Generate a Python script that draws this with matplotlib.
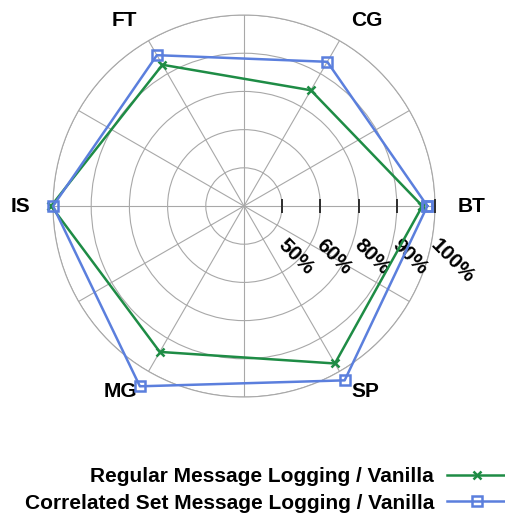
import numpy as np
import matplotlib
matplotlib.use("Agg")
import matplotlib.pyplot as plt

plt.rcParams['font.family'] = ['Liberation Sans', 'DejaVu Sans']
plt.rcParams['font.weight'] = 'bold'

categories = ["BT", "CG", "FT", "IS", "MG", "SP"]
ring_values = [50, 60, 80, 90, 100]
ring_labels = ["50%", "60%", "80%", "90%", "100%"]
regular = [96.7, 85.0, 92.7, 100.5, 94.1, 97.6]
correlated = [98.0, 93.6, 95.6, 100.0, 104.5, 102.7]
series_names = ["Regular Message Logging / Vanilla",
                "Correlated Set Message Logging / Vanilla"]

GREEN = "#1e8c45"
BLUE = "#5b7fdd"
GRID = "#a8a8a8"

ring_pos = np.arange(1, len(ring_values) + 1)


def to_r(vals):
    vals = np.asarray(vals, dtype=float)
    xp = [40] + ring_values
    fp = [0] + list(ring_pos)
    r = np.interp(vals, xp, fp)
    over = vals > ring_values[-1]
    r[over] = ring_pos[-1] + (vals[over] - ring_values[-1]) / 10.0
    return r


fig = plt.figure(figsize=(5.06, 5.13), dpi=100)
ax = fig.add_axes([0.1047, 0.2261, 0.755, 0.7446], projection='polar')

n = len(categories)
theta = np.deg2rad(np.arange(n) * 360.0 / n)

ax.set_ylim(0, ring_pos[-1])
ax.set_yticks(ring_pos)
ax.set_yticklabels([])
ax.set_xticks(np.deg2rad(np.arange(0, 360, 30)))
ax.set_xticklabels([])
ax.grid(True, color=GRID, linewidth=0.8)
ax.spines['polar'].set_color(GRID)
ax.spines['polar'].set_linewidth(0.8)
ax.tick_params(length=0)

# ticks along BT axis
ax.plot(np.zeros(len(ring_pos)), ring_pos, linestyle='none', marker='|',
        markersize=10, markeredgewidth=1.3, color='#222222', clip_on=False, zorder=3)

for rp, lab in zip(ring_pos, ring_labels):
    ax.annotate(lab, xy=(0, rp), xytext=(4.0, -21), textcoords='offset points',
                rotation=-45, rotation_mode='anchor', ha='left', va='top',
                fontsize=15, fontweight='bold', annotation_clip=False)

# category labels
for t, c in zip(theta, categories):
    deg = np.rad2deg(t)
    if np.isclose(deg, 90) or np.isclose(deg, 270):
        ha = 'center'
    elif deg < 90 or deg > 270:
        ha = 'left'
    else:
        ha = 'right'
    ax.text(t, 5.6, c, ha=ha, va='center', fontsize=15, fontweight='bold',
            clip_on=False)

tc = np.append(theta, theta[0])
rg = to_r(regular)
rc = to_r(correlated)
l1, = ax.plot(tc, np.append(rg, rg[0]), color=GREEN, linewidth=1.8, marker='x',
              markersize=6, markeredgewidth=1.8, clip_on=False, zorder=4,
              label=series_names[0])
l2, = ax.plot(tc, np.append(rc, rc[0]), color=BLUE, linewidth=1.8, marker='s',
              markersize=7, markerfacecolor='none', markeredgewidth=1.8,
              clip_on=False, zorder=5, label=series_names[1])

fig.legend(handles=[l1, l2], loc='upper right', bbox_to_anchor=(1.0, 0.0895),
           frameon=False, markerfirst=False, handlelength=2.83,
           handletextpad=0.62, labelspacing=0.36, borderpad=0, borderaxespad=0,
           prop={'weight': 'bold', 'size': 15})

fig.savefig("out.png", dpi=100)
